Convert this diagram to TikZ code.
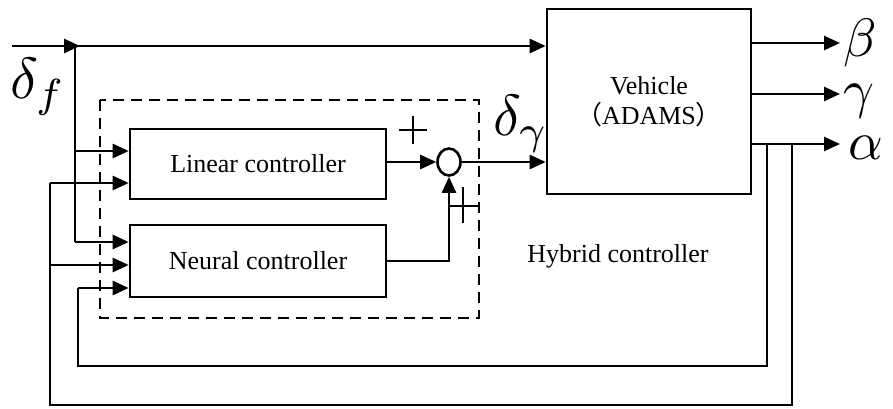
\documentclass[tikz,border=0pt]{standalone}
\usepackage{fontspec}
\usepackage{graphicx}
\setmainfont{Liberation Serif}
\newfontfamily\cjk{Noto Sans CJK SC}
\usetikzlibrary{arrows.meta,shapes.geometric}
\newcommand{\greekbig}[1]{\scalebox{5.4}{$#1$}}
\begin{document}
\begin{tikzpicture}[x=1pt,y=-1pt,
  blk/.style={draw,line width=2.6pt,rectangle,inner sep=0pt,font=\fontsize{26}{28}\selectfont},
  ln/.style={line width=2.6pt},
  fb/.style={line width=2.3pt},
  arr/.style={line width=2.6pt,-{Triangle[length=16pt,width=14pt]}},
  thin/.style={line width=1.5pt},
  gr/.style={inner sep=0pt,font=\normalsize},
  lbl/.style={inner sep=0pt,font=\fontsize{26}{28}\selectfont}]
\useasboundingbox (0,0) rectangle (893,408);
% blocks
\node[blk,minimum width=204pt,minimum height=185pt,align=center] (veh) at (649,101.5) {Vehicle\\[2pt]{\cjk（}ADAMS{\cjk）}};
\node[blk,minimum width=256pt,minimum height=70pt] (lin) at (258,164) {Linear controller};
\node[blk,minimum width=256pt,minimum height=72pt] (neu) at (258,261) {Neural controller};
\node[draw,ellipse,line width=2.6pt,minimum width=23pt,minimum height=27pt,inner sep=0pt] (sum) at (449,162) {};
% dashed hybrid box
\draw[line width=2.3pt,dash pattern=on 11pt off 7pt] (100,100) rectangle (479,318);
\node[lbl] (hyb) at (618,256) {Hybrid controller};
% coordinates
\coordinate (s0) at (12,46);
\coordinate (jtip) at (80,46);
\coordinate (jt) at (75,46);
\coordinate (a1) at (75,151);
\coordinate (a2) at (75,242);
\coordinate (b1) at (50,183);
\coordinate (b2) at (50,265);
\coordinate (b3) at (50,405);
\coordinate (c1) at (78,288);
\coordinate (c2) at (78,366);
\coordinate (d1) at (767,366);
\coordinate (e1) at (792,405);
\coordinate (oa) at (840,144);
\coordinate (ob) at (840,43);
\coordinate (og) at (840,94);
\coordinate (n1) at (449,261);
% top input
\draw[arr] (s0) -- (jtip);
\draw[arr] (jt) -- (jt -| veh.west);
\draw[ln] (jt) -- (a2);
\draw[arr] (a1) -- (a1 -| lin.west);
\draw[arr] (a2) -- (a2 -| neu.west);
% feedback loops
\draw[fb] (oa -| e1) -- (e1) -- (b3) -- (b1);
\draw[arr] (b1) -- (b1 -| lin.west);
\draw[arr] (b2) -- (b2 -| neu.west);
\draw[fb] (oa -| d1) -- (d1) -- (c2) -- (c1);
\draw[arr] (c1) -- (c1 -| neu.west);
% summation
\draw[arr] (lin.east |- sum.west) -- (sum.west);
\draw[arr] (neu.east |- n1) -- (n1) -- (sum.south);
\draw[arr] (sum.east) -- (sum.east -| veh.west);
% plus signs
\draw[thin] (399,130) -- (427,130) (413,116) -- (413,144);
\draw[thin] (449,206) -- (478,206) (463,187) -- (463,223);
% outputs
\draw[arr] (ob -| veh.east) -- (ob);
\draw[arr] (og -| veh.east) -- (og);
\draw[arr] (oa -| veh.east) -- (oa);
\node[gr,anchor=west] (beta) at (843,43) {\greekbig{\beta}};
\node[gr,anchor=west] (gamma) at (843,101) {\greekbig{\gamma}};
\node[gr,anchor=west] (alpha) at (848,148) {\greekbig{\alpha}};
% delta labels
\node[gr,anchor=west] (df) at (10,87) {\scalebox{5.8}{$\delta_f$}};
\node[gr,anchor=west] (dg) at (493,124) {\scalebox{5.8}{$\delta_\gamma$}};
\end{tikzpicture}
\end{document}
